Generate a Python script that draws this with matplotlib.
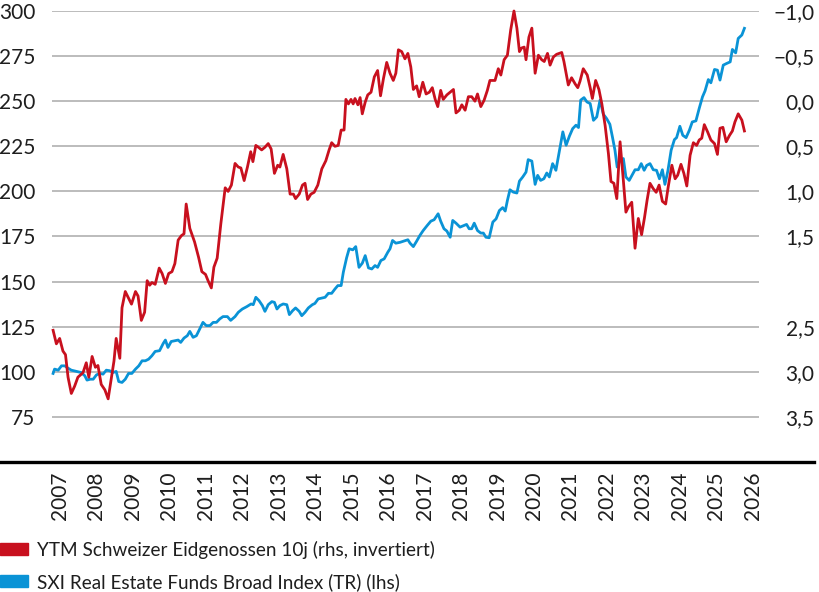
import matplotlib
matplotlib.use('Agg')
import matplotlib.pyplot as plt
from matplotlib.lines import Line2D
from matplotlib.patches import Rectangle

plt.rcParams['font.family'] = ['Lato', 'DejaVu Sans']

# SXI Real Estate Funds Broad Index (TR), left axis
sxi_t = [2006.81, 2006.85, 2006.95, 2007.04, 2007.13, 2007.22, 2007.31, 2007.45, 2007.58, 2007.68,
         2007.74, 2007.83, 2007.91, 2008.00, 2008.09, 2008.18, 2008.27, 2008.36, 2008.45, 2008.54,
         2008.61, 2008.70, 2008.79, 2008.88, 2008.97, 2009.07, 2009.16, 2009.25, 2009.34, 2009.43,
         2009.52, 2009.61, 2009.73, 2009.83, 2009.89, 2009.96, 2010.05, 2010.15, 2010.24, 2010.31,
         2010.40, 2010.49, 2010.56, 2010.65, 2010.74, 2010.83, 2010.92, 2011.01, 2011.11, 2011.20,
         2011.29, 2011.38, 2011.47, 2011.59, 2011.68, 2011.80, 2011.89, 2012.00, 2012.12, 2012.24,
         2012.30, 2012.37, 2012.46, 2012.55, 2012.62, 2012.71, 2012.81, 2012.88, 2012.95, 2013.03,
         2013.12, 2013.22, 2013.29, 2013.38, 2013.46, 2013.56, 2013.63, 2013.72, 2013.81, 2013.92,
         2013.99, 2014.08, 2014.18, 2014.27, 2014.36, 2014.45, 2014.54, 2014.62, 2014.71, 2014.77,
         2014.86, 2014.93, 2015.03, 2015.11, 2015.20, 2015.29, 2015.37, 2015.46, 2015.55, 2015.64,
         2015.71, 2015.80, 2015.89, 2015.99, 2016.05, 2016.12, 2016.21, 2016.33, 2016.42, 2016.54,
         2016.60, 2016.69, 2016.78, 2016.87, 2016.96, 2017.07, 2017.17, 2017.26, 2017.37, 2017.44,
         2017.53, 2017.61, 2017.70, 2017.77, 2017.86, 2017.97, 2018.08, 2018.15, 2018.22, 2018.29,
         2018.36, 2018.45, 2018.54, 2018.61, 2018.68, 2018.77, 2018.87, 2018.96, 2019.05, 2019.14,
         2019.21, 2019.27, 2019.34, 2019.43, 2019.53, 2019.60, 2019.69, 2019.78, 2019.84, 2019.94,
         2020.03, 2020.10, 2020.18, 2020.27, 2020.35, 2020.42, 2020.51, 2020.60, 2020.69, 2020.79,
         2020.88, 2020.97, 2021.06, 2021.15, 2021.22, 2021.28, 2021.37, 2021.45, 2021.54, 2021.63,
         2021.72, 2021.81, 2021.90, 2021.99, 2022.08, 2022.15, 2022.22, 2022.28, 2022.36, 2022.45,
         2022.52, 2022.61, 2022.70, 2022.77, 2022.86, 2022.94, 2023.02, 2023.09, 2023.18, 2023.27,
         2023.36, 2023.44, 2023.52, 2023.59, 2023.67, 2023.76, 2023.85, 2023.91, 2024.00, 2024.08,
         2024.17, 2024.26, 2024.34, 2024.44, 2024.53, 2024.62, 2024.69, 2024.78, 2024.85, 2024.95,
         2025.03, 2025.10, 2025.19, 2025.28, 2025.38, 2025.44, 2025.53, 2025.60, 2025.70, 2025.77]
sxi_v = [99.1, 101.5, 100.9, 103.3, 103.3, 102.0, 100.9, 100.2, 99.6, 97.8,
         95.4, 95.9, 95.9, 98.3, 99.1, 98.7, 100.9, 100.6, 99.6, 100.2,
         94.6, 94.1, 95.9, 99.1, 99.1, 101.5, 103.3, 106.1, 106.1, 107.0,
         108.9, 111.3, 111.7, 115.7, 117.6, 113.5, 116.8, 117.2, 117.6, 116.3,
         118.7, 120.0, 122.4, 119.1, 120.0, 123.7, 127.4, 125.6, 125.6, 127.4,
         127.4, 129.3, 130.6, 130.6, 128.5, 130.6, 133.0, 134.8, 136.1, 137.6,
         137.2, 141.3, 139.4, 136.7, 133.5, 137.2, 138.9, 138.5, 134.8, 136.7,
         137.6, 137.2, 131.7, 133.9, 135.4, 133.5, 131.1, 133.0, 135.4, 137.2,
         137.9, 140.4, 140.9, 141.3, 143.5, 143.5, 145.9, 147.8, 147.8, 155.2,
         163.2, 168.2, 167.6, 169.4, 157.9, 160.2, 164.4, 157.6, 157.0, 158.9,
         157.9, 161.7, 162.6, 166.3, 168.2, 172.8, 171.3, 171.8, 172.4, 173.2,
         171.3, 169.4, 172.4, 175.6, 178.3, 181.1, 183.5, 184.3, 187.6, 183.5,
         179.3, 178.0, 174.6, 183.9, 182.4, 180.2, 181.1, 181.7, 179.3, 179.3,
         182.4, 178.3, 176.9, 176.9, 174.6, 174.3, 183.0, 184.8, 189.4, 191.0,
         189.1, 195.0, 200.9, 199.6, 199.1, 205.7, 208.0, 210.7, 217.6, 216.8,
         203.9, 208.9, 206.1, 207.0, 210.2, 208.0, 215.4, 211.7, 221.8, 233.0,
         225.6, 230.6, 234.8, 236.7, 235.4, 250.6, 252.0, 249.6, 248.7, 239.4,
         241.3, 250.6, 242.8, 240.4, 237.2, 230.2, 222.8, 213.5, 217.2, 218.2,
         208.0, 206.1, 209.4, 212.0, 212.0, 215.4, 211.7, 214.4, 215.4, 212.0,
         211.7, 207.0, 212.0, 203.9, 211.3, 222.8, 228.7, 229.8, 236.1, 231.1,
         229.8, 233.9, 238.5, 239.1, 246.0, 252.4, 255.7, 262.0, 260.2, 267.6,
         267.2, 261.7, 270.0, 270.9, 271.8, 278.7, 276.8, 284.8, 286.7, 290.4]

# YTM Schweizer Eidgenossen 10j in %, right axis (inverted)
ytm_t = [2006.81, 2006.90, 2006.99, 2007.08, 2007.15, 2007.22, 2007.31, 2007.40, 2007.49, 2007.63,
         2007.72, 2007.79, 2007.88, 2007.97, 2008.04, 2008.13, 2008.23, 2008.32, 2008.41, 2008.48,
         2008.54, 2008.64, 2008.70, 2008.79, 2008.96, 2009.07, 2009.14, 2009.23, 2009.32, 2009.39,
         2009.46, 2009.52, 2009.61, 2009.72, 2009.80, 2009.89, 2009.98, 2010.07, 2010.15, 2010.24,
         2010.33, 2010.40, 2010.46, 2010.56, 2010.69, 2010.80, 2010.89, 2010.99, 2011.06, 2011.15,
         2011.22, 2011.31, 2011.41, 2011.53, 2011.61, 2011.70, 2011.80, 2011.89, 2011.96, 2012.05,
         2012.14, 2012.23, 2012.29, 2012.37, 2012.44, 2012.53, 2012.62, 2012.71, 2012.79, 2012.88,
         2012.97, 2013.03, 2013.12, 2013.22, 2013.31, 2013.40, 2013.46, 2013.56, 2013.65, 2013.72,
         2013.79, 2013.88, 2013.97, 2014.07, 2014.18, 2014.29, 2014.38, 2014.45, 2014.54, 2014.63,
         2014.71, 2014.79, 2014.84, 2014.91, 2014.98, 2015.04, 2015.09, 2015.17, 2015.23, 2015.29,
         2015.37, 2015.44, 2015.53, 2015.62, 2015.71, 2015.79, 2015.87, 2015.96, 2016.05, 2016.14,
         2016.21, 2016.28, 2016.37, 2016.46, 2016.54, 2016.62, 2016.69, 2016.78, 2016.85, 2016.95,
         2017.04, 2017.13, 2017.21, 2017.29, 2017.36, 2017.44, 2017.51, 2017.61, 2017.70, 2017.79,
         2017.86, 2017.95, 2018.02, 2018.11, 2018.20, 2018.29, 2018.38, 2018.45, 2018.54, 2018.63,
         2018.72, 2018.79, 2018.93, 2019.02, 2019.09, 2019.18, 2019.27, 2019.36, 2019.45, 2019.53,
         2019.60, 2019.66, 2019.73, 2019.78, 2019.86, 2019.94, 2020.03, 2020.12, 2020.21, 2020.28,
         2020.37, 2020.44, 2020.53, 2020.62, 2020.76, 2020.82, 2020.94, 2021.03, 2021.13, 2021.20,
         2021.26, 2021.35, 2021.46, 2021.54, 2021.60, 2021.69, 2021.78, 2021.86, 2021.95, 2022.04,
         2022.11, 2022.19, 2022.27, 2022.36, 2022.45, 2022.52, 2022.59, 2022.68, 2022.77, 2022.86,
         2022.95, 2023.03, 2023.10, 2023.18, 2023.27, 2023.35, 2023.43, 2023.52, 2023.61, 2023.68,
         2023.78, 2023.87, 2023.94, 2024.03, 2024.11, 2024.19, 2024.28, 2024.37, 2024.46, 2024.53,
         2024.60, 2024.67, 2024.76, 2024.85, 2024.95, 2025.03, 2025.10, 2025.18, 2025.27, 2025.36,
         2025.44, 2025.51, 2025.60, 2025.70, 2025.77]
ytm_v = [2.54, 2.69, 2.63, 2.77, 2.81, 3.06, 3.24, 3.16, 3.06, 3.01,
         2.90, 3.06, 2.83, 2.95, 2.93, 3.14, 3.20, 3.30, 3.06, 2.88,
         2.63, 2.85, 2.29, 2.11, 2.25, 2.11, 2.16, 2.43, 2.34, 1.99,
         2.04, 2.01, 2.03, 1.85, 1.91, 2.02, 1.91, 1.89, 1.80, 1.54,
         1.49, 1.47, 1.14, 1.41, 1.56, 1.73, 1.89, 1.92, 1.99, 2.07,
         1.84, 1.74, 1.36, 0.96, 1.00, 0.93, 0.69, 0.73, 0.74, 0.88,
         0.73, 0.56, 0.67, 0.49, 0.51, 0.54, 0.51, 0.47, 0.53, 0.80,
         0.71, 0.73, 0.59, 0.75, 1.03, 1.03, 1.08, 1.03, 0.93, 0.91,
         1.09, 1.03, 1.01, 0.93, 0.75, 0.66, 0.54, 0.46, 0.50, 0.49,
         0.32, 0.32, -0.02, 0.03, -0.02, 0.03, -0.03, 0.04, -0.04, 0.14,
         0.01, -0.07, -0.10, -0.27, -0.34, -0.06, -0.25, -0.43, -0.31, -0.23,
         -0.31, -0.57, -0.55, -0.47, -0.53, -0.38, -0.13, -0.17, -0.05, -0.21,
         -0.08, -0.10, -0.15, -0.02, 0.06, -0.12, -0.02, -0.07, -0.10, -0.13,
         0.13, 0.10, 0.04, 0.10, -0.05, -0.05, 0.00, -0.08, 0.06, -0.01,
         -0.12, -0.23, -0.23, -0.36, -0.29, -0.46, -0.51, -0.79, -1.00, -0.81,
         -0.55, -0.59, -0.60, -0.46, -0.71, -0.81, -0.31, -0.51, -0.46, -0.44,
         -0.53, -0.40, -0.49, -0.52, -0.54, -0.44, -0.18, -0.26, -0.19, -0.15,
         -0.22, -0.36, -0.29, -0.15, -0.03, -0.23, -0.13, 0.03, 0.27, 0.58,
         0.89, 0.91, 1.08, 0.45, 0.88, 1.23, 1.17, 1.12, 1.63, 1.30,
         1.48, 1.29, 1.10, 0.91, 0.97, 1.01, 0.93, 1.11, 1.14, 0.95,
         0.71, 0.86, 0.82, 0.70, 0.80, 0.94, 0.60, 0.46, 0.49, 0.43,
         0.41, 0.26, 0.34, 0.43, 0.47, 0.59, 0.30, 0.29, 0.45, 0.38,
         0.33, 0.23, 0.14, 0.21, 0.33]

left_ticks = [75, 100, 125, 150, 175, 200, 225, 250, 275, 300]
right_ticks = [-1.0, -0.5, 0.0, 0.5, 1.0, 1.5, 2.5, 3.0, 3.5]
years = list(range(2007, 2027))

label_ytm = 'YTM Schweizer Eidgenossen 10j (rhs, invertiert)'
label_sxi = 'SXI Real Estate Funds Broad Index (TR) (lhs)'

red = '#C8101E'
blue = '#0A93D6'
txt = '#1e1e1e'

W, H = 820, 592
fig = plt.figure(figsize=(W / 100, H / 100), dpi=100)
ax = fig.add_axes([52 / W, 1 - 462 / H, 707 / W, 451 / H])
ax2 = ax.twinx()

ax.plot(sxi_t, sxi_v, color=blue, lw=2.0, clip_on=False)
ax2.plot(ytm_t, ytm_v, color=red, lw=2.0, clip_on=False)

ax.set_xlim(2006.78, 2026.17)
ax.set_ylim(50, 300)
ax2.set_ylim(4.0, -1.0)

ax.set_yticks(left_ticks)
ax.set_xticks(years)
ax.set_xticklabels([str(y) for y in years], rotation=90)
ax.tick_params(axis='x', length=0, pad=7, labelsize=15, labelcolor=txt)
ax.tick_params(axis='y', length=0, pad=12, labelsize=15, labelcolor=txt)

ax2.set_yticks(right_ticks)
ax2.set_yticklabels([('%.1f' % v).replace('.', ',').replace('-', '\u2212') for v in right_ticks])
ax2.tick_params(axis='y', length=0, pad=40, labelsize=15, labelcolor=txt)
for lab in ax2.get_yticklabels():
    lab.set_ha('right')

ax.grid(axis='y', color='#b0b0b0', lw=1.2)
ax.set_axisbelow(True)
for a in (ax, ax2):
    for s in a.spines.values():
        s.set_visible(False)

# black base line across the figure
fig.add_artist(Line2D([0, 814 / W], [1 - 462 / H, 1 - 462 / H], color='black', lw=2.4,
                      transform=fig.transFigure))

# legend
for i, (c, lab) in enumerate([(red, label_ytm), (blue, label_sxi)]):
    y0 = 555 + i * 32
    fig.add_artist(Rectangle((0, 1 - y0 / H), 28 / W, 12.5 / H, color=c,
                             transform=fig.transFigure))
    fig.text(37 / W, 1 - (y0 + 1) / H, lab, fontsize=13.6, color=txt, va='baseline')

fig.savefig('out.png', dpi=100)
